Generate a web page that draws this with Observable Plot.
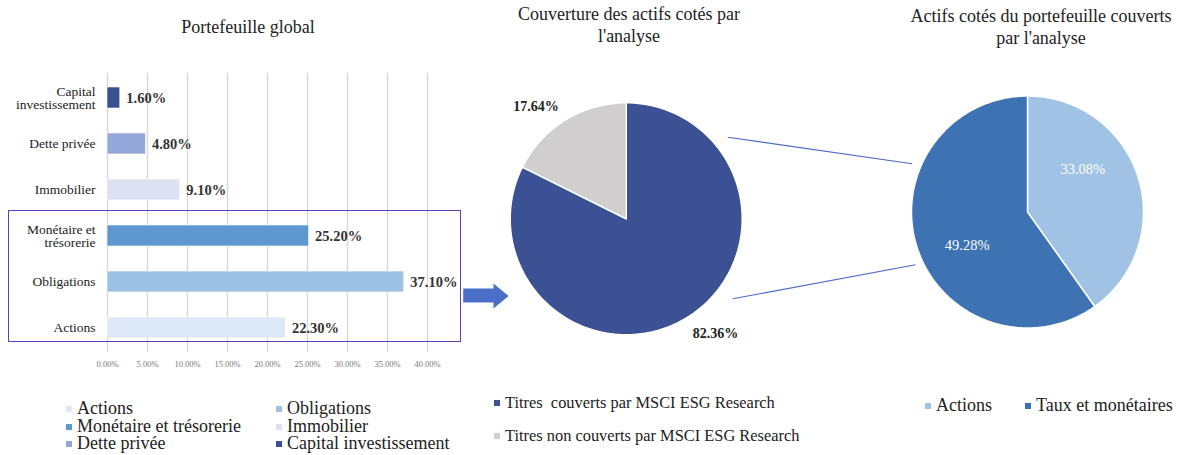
<!DOCTYPE html>
<html>
<head>
<meta charset="utf-8">
<script src="https://cdn.jsdelivr.net/npm/d3@7"></script>
<script src="https://cdn.jsdelivr.net/npm/@observablehq/plot@0.6"></script>
<style>
  html, body { margin: 0; padding: 0; background: #fff; }
  #root { position: relative; width: 1180px; height: 455px; font-family: "Liberation Serif", serif; color: #222; overflow: hidden; }
  .title { position: absolute; text-align: center; font-size: 18px; line-height: 21.5px; white-space: nowrap; transform: translateX(-50%); }
  .leg { position: absolute; line-height: 18px; white-space: nowrap; }
  .leg .sw { display: inline-block; width: 6px; height: 6px; margin-right: 5px; vertical-align: 2px; }
  .plot { position: absolute; top: 0; }
  #frame { position: absolute; border: 1.5px solid #5C3DBA; box-sizing: border-box; }
</style>
</head>
<body>
<div id="root"></div>
<script>
// ---- Data ----
const categories = ["Capital investissement", "Dette privée", "Immobilier", "Monétaire et trésorerie", "Obligations", "Actions"];
const axisLabels = ["Capital\ninvestissement", "Dette privée", "Immobilier", "Monétaire et\ntrésorerie", "Obligations", "Actions"];
const shares = [1.60, 4.80, 9.10, 25.20, 37.10, 22.30];
const barColors = ["#3A5090", "#95A7D9", "#DCE2F2", "#5F97D0", "#9EC2E4", "#DDE9F6"];
const xTicks = [0, 5, 10, 15, 20, 25, 30, 35, 40];
const legendOrder = ["Actions", "Obligations", "Monétaire et trésorerie", "Immobilier", "Dette privée", "Capital investissement"];

const coverageLabels = ["Titres  couverts par MSCI ESG Research", "Titres non couverts par MSCI ESG Research"];
const coverageValues = [82.36, 17.64];
const coverageColors = ["#3C5194", "#D0CECE"];

const coveredLabels = ["Actions", "Taux et monétaires"];
const coveredValues = [33.08, 49.28];
const coveredColors = ["#A0C3E5", "#3D72B3"];

const titles = ["Portefeuille global", "Couverture des actifs cotés par\nl'analyse", "Actifs cotés du portefeuille couverts\npar l'analyse"];

// ---- Layout ----
const root = document.getElementById("root");
const serif = "'Liberation Serif', serif";

// Titles
const titlePos = [[248, 17], [629, 4], [1041, 6]];
titles.forEach((t, i) => {
  const d = document.createElement("div");
  d.className = "title";
  d.style.left = titlePos[i][0] + "px";
  d.style.top = titlePos[i][1] + "px";
  d.innerHTML = t.split("\n").join("<br>");
  root.appendChild(d);
});

// Bar chart
const barData = categories.map((c, i) => ({cat: c, value: shares[i]}));
const bar = Plot.plot({
  width: 470, height: 380,
  marginLeft: 107, marginRight: 3, marginTop: 73, marginBottom: 28,
  style: {fontFamily: serif, background: "transparent", overflow: "visible"},
  x: {domain: [0, 45], axis: null},
  y: {domain: categories, paddingInner: 0.55, paddingOuter: 0.275, axis: null},
  color: {domain: categories, range: barColors},
  marks: [
    Plot.gridX(xTicks, {stroke: "#d9d9d9", strokeOpacity: 1, strokeWidth: 1.5}),
    Plot.axisX({ticks: xTicks, tickSize: 0, tickPadding: 8, tickFormat: d => d.toFixed(2) + "%", fontSize: 8.5, fill: "#777", label: null}),
    Plot.axisY({tickSize: 0, tickPadding: 12, tickFormat: d => axisLabels[categories.indexOf(d)], fontSize: 13.5, fill: "#222", label: null}),
    Plot.barX(barData, {x: "value", y: "cat", fill: "cat", stroke: "white", strokeWidth: 0.6}),
    Plot.text(barData, {x: "value", y: "cat", text: d => d.value.toFixed(2) + "%", dx: 6, textAnchor: "start", fontWeight: "bold", fontSize: 14.5, fill: "#333"})
  ]
});
bar.classList.add("plot");
bar.style.left = "0px";
root.appendChild(bar);

// Highlight frame around the listed-assets bars
const frame = document.createElement("div");
frame.id = "frame";
Object.assign(frame.style, {left: "8px", top: "210px", width: "453px", height: "132px"});
root.appendChild(frame);

// Pies
function slices(values, keys, colors, cx, cy, r) {
  const total = d3.sum(values);
  const pts = [], labels = [];
  let a0 = 0;
  values.forEach((v, i) => {
    const a1 = a0 + v / total * 2 * Math.PI;
    const n = Math.max(2, Math.ceil((a1 - a0) / (Math.PI / 180)));
    pts.push({key: keys[i], color: colors[i], x: cx, y: cy});
    for (let j = 0; j <= n; j++) {
      const a = a0 + (a1 - a0) * j / n;
      pts.push({key: keys[i], color: colors[i], x: cx + r * Math.sin(a), y: cy - r * Math.cos(a)});
    }
    labels.push({key: keys[i], value: v, mid: (a0 + a1) / 2});
    a0 = a1;
  });
  return {pts, labels};
}
const R = 116;
const p1 = {cx: 185.7, cy: 218.3};
const p2 = {cx: 587, cy: 211.5};
const pie1 = slices(coverageValues, coverageLabels, coverageColors, p1.cx, p1.cy, R);
const pie2 = slices(coveredValues, coveredLabels, coveredColors, p2.cx, p2.cy, R);
const lab = (L, c, k) => L.map(d => ({...d, x: c.cx + k * R * Math.sin(d.mid), y: c.cy - k * R * Math.cos(d.mid)}));
const l1 = lab(pie1.labels, p1, 1.25);
const l2 = lab(pie2.labels, p2, 0.6);
const fmt = d => d.value.toFixed(2) + "%";

const arrowShape = [[22.7, 288], [53, 288], [53, 283], [68, 295.5], [53, 308], [53, 302], [22.7, 302]].map(([x, y]) => ({x, y}));
const connectors = [{x1: 287.3, y1: 136.7, x2: 471.7, y2: 163.3}, {x1: 292.3, y1: 298.3, x2: 475, y2: 264.3}];

const pies = Plot.plot({
  width: 740, height: 380, margin: 0,
  style: {fontFamily: serif, background: "transparent", overflow: "visible"},
  x: {domain: [0, 740], range: [0, 740], axis: null},
  y: {domain: [0, 380], range: [0, 380], axis: null},
  marks: [
    Plot.line(arrowShape, {x: "x", y: "y", fill: "#4B6FC9", stroke: "none", curve: "linear-closed"}),
    Plot.link(connectors, {x1: "x1", y1: "y1", x2: "x2", y2: "y2", stroke: "#4B6BC6", strokeWidth: 1.1}),
    Plot.line(pie1.pts, {x: "x", y: "y", z: "key", fill: "color", stroke: "white", strokeWidth: 1.5, curve: "linear-closed"}),
    Plot.line(pie2.pts, {x: "x", y: "y", z: "key", fill: "color", stroke: "white", strokeWidth: 1.5, curve: "linear-closed"}),
    Plot.text([l1[0]], {x: "x", y: "y", text: fmt, dx: 13, dy: -8.5, fontWeight: "bold", fontSize: 14, fill: "#222"}),
    Plot.text([l1[1]], {x: "x", y: "y", text: fmt, dx: -14, dy: 11, fontWeight: "bold", fontSize: 14, fill: "#222"}),
    Plot.text([l2[0]], {x: "x", y: "y", text: fmt, dx: -11, dy: -21, fontSize: 14.5, fill: "white"}),
    Plot.text([l2[1]], {x: "x", y: "y", text: fmt, dx: 6, dy: 12, fontSize: 14.5, fill: "white"})
  ]
});
pies.classList.add("plot");
pies.style.left = "440px";
root.appendChild(pies);

// Legends
function legendItem(label, color, x, y, size) {
  const d = document.createElement("div");
  d.className = "leg";
  d.style.left = x + "px";
  d.style.top = y + "px";
  d.style.fontSize = size + "px";
  d.innerHTML = `<span class="sw" style="background:${color}"></span>${label.replace(/  /g, " &nbsp;")}`;
  root.appendChild(d);
}
legendOrder.forEach((c, i) => {
  const col = i % 2, row = Math.floor(i / 2);
  legendItem(c, barColors[categories.indexOf(c)], col ? 276 : 66, 399 + row * 17.7, 18);
});
coverageLabels.forEach((c, i) => legendItem(c, coverageColors[i], 494, 394 + i * 33, 16.4));
coveredLabels.forEach((c, i) => legendItem(c, coveredColors[i], i ? 1025 : 925, 396, 18));
</script>
</body>
</html>
